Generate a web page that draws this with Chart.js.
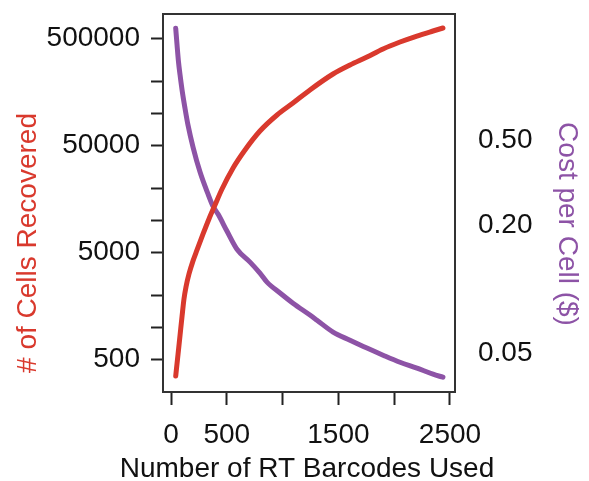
<!DOCTYPE html>
<html>
<head>
<meta charset="utf-8">
<script src="https://cdn.jsdelivr.net/npm/chart.js@4/dist/chart.umd.min.js"></script>
<style>
  html, body { margin: 0; padding: 0; background: #fff; }
  #wrap { width: 589px; height: 481px; }
</style>
</head>
<body>
<div id="wrap"><canvas id="rtChart" width="589" height="481"></canvas></div>
<script>
// --- Data ---
const cellsX = [42, 63, 81, 99, 116, 134, 161, 197, 233, 287, 340, 394, 457, 556, 663, 797, 950, 1093, 1245, 1452, 1604, 1756, 1900, 2052, 2204, 2348, 2437];
const cellsY = [352, 565, 851, 1280, 1845, 2390, 3160, 4190, 5300, 7480, 10330, 13960, 19680, 30970, 45600, 68550, 96800, 125300, 166000, 233900, 283800, 337300, 400900, 465600, 529700, 590200, 629500];

const costX = [42, 54, 67, 81, 99, 125, 152, 197, 260, 332, 376, 421, 502, 591, 708, 797, 860, 977, 1093, 1245, 1308, 1452, 1604, 1756, 1900, 2052, 2204, 2348, 2437];
const costY = [1.67, 1.394, 1.161, 1.009, 0.858, 0.706, 0.588, 0.464, 0.354, 0.279, 0.245, 0.225, 0.187, 0.154, 0.134, 0.119, 0.108, 0.096, 0.086, 0.0757, 0.0716, 0.0630, 0.0577, 0.0530, 0.0491, 0.0455, 0.0427, 0.0400, 0.0387];

const xTicks = [0, 500, 1000, 1500, 2000, 2500];
const xTickLabels = [0, 500, 1500, 2500];
const cellTicks = [500, 1000, 2000, 5000, 10000, 20000, 50000, 100000, 200000, 500000];
const cellTickLabels = [500, 5000, 50000, 500000];
const costTicks = [0.05, 0.2, 0.5];

const RED = '#d9392d';
const PURPLE = '#8d53a6';
const INK = '#111';
const FONT = 'Liberation Sans, Arial, Helvetica, sans-serif';

// --- Axis titles drawn by hand (x title is wider than the plot area) ---
const axisTitles = {
    id: 'axisTitles',
    afterDraw(chart) {
        const c = chart.ctx;
        c.save();
        c.font = `28px ${FONT}`;
        c.textAlign = 'center';
        c.textBaseline = 'alphabetic';

        c.fillStyle = INK;
        c.fillText('Number of RT Barcodes Used', 307, 477);

        c.fillStyle = RED;
        c.save();
        c.translate(35.5, 243);
        c.rotate(-Math.PI / 2);
        c.fillText('# of Cells Recovered', 0, 0);
        c.restore();

        c.fillStyle = PURPLE;
        c.save();
        c.translate(559, 224);
        c.rotate(Math.PI / 2);
        c.fillText('Cost per Cell ($)', 0, 0);
        c.restore();
        c.restore();
    }
};

const setTicks = list => scale => { scale.ticks = list.map(v => ({ value: v })); };
const fixSize = (w, h) => scale => {
    if (w !== null) scale.width = w;
    if (h !== null) scale.height = h;
    scale.paddingTop = scale.paddingBottom = scale.paddingLeft = scale.paddingRight = 0;
};

// --- Chart ---
const ctx = document.getElementById('rtChart').getContext('2d');
const rtChart = new Chart(ctx, {
    type: 'line',
    data: {
        datasets: [
            {
                label: '# of Cells Recovered',
                data: cellsX.map((x, i) => ({ x, y: cellsY[i] })),
                borderColor: RED, borderWidth: 5, borderCapStyle: 'round', borderJoinStyle: 'round',
                cubicInterpolationMode: 'monotone', pointRadius: 0, yAxisID: 'y'
            },
            {
                label: 'Cost per Cell ($)',
                data: costX.map((x, i) => ({ x, y: costY[i] })),
                borderColor: PURPLE, borderWidth: 5, borderCapStyle: 'round', borderJoinStyle: 'round',
                cubicInterpolationMode: 'monotone', pointRadius: 0, yAxisID: 'y1'
            }
        ]
    },
    options: {
        responsive: false,
        animation: false,
        layout: { padding: 0 },
        plugins: { legend: { display: false }, tooltip: { enabled: false } },
        scales: {
            x: {
                type: 'linear', position: 'bottom', min: -72, max: 2545,
                afterBuildTicks: setTicks(xTicks),
                afterFit: fixSize(null, 89),
                ticks: {
                    autoSkip: false, maxRotation: 0, padding: 13, color: INK,
                    font: { family: FONT, size: 28 },
                    callback: v => xTickLabels.includes(v) ? String(v) : ''
                },
                grid: { drawOnChartArea: false, tickLength: 13, tickWidth: 2, tickColor: '#222' },
                border: { display: true, color: '#333', width: 2 }
            },
            xTop: {
                type: 'linear', position: 'top', min: -72, max: 2545,
                afterFit: fixSize(null, 14),
                ticks: { display: false },
                grid: { drawOnChartArea: false, drawTicks: false },
                border: { display: true, color: '#333', width: 2 }
            },
            y: {
                type: 'logarithmic', position: 'left', min: 249, max: 851000,
                afterBuildTicks: setTicks(cellTicks),
                afterFit: fixSize(163, null),
                ticks: {
                    autoSkip: false, padding: 11, color: INK,
                    font: { family: FONT, size: 28 },
                    callback: v => cellTickLabels.includes(v) ? String(v) : ''
                },
                grid: { drawOnChartArea: false, tickLength: 12, tickWidth: 2, tickColor: '#222' },
                border: { display: true, color: '#333', width: 2 }
            },
            y1: {
                type: 'logarithmic', position: 'right', min: 0.033, max: 1.95,
                afterBuildTicks: setTicks(costTicks),
                afterFit: fixSize(134, null),
                ticks: {
                    autoSkip: false, padding: 23, color: INK,
                    font: { family: FONT, size: 28 },
                    callback: v => v.toFixed(2)
                },
                grid: { drawOnChartArea: false, drawTicks: false },
                border: { display: true, color: '#333', width: 2 }
            }
        }
    },
    plugins: [axisTitles]
});
</script>
</body>
</html>
